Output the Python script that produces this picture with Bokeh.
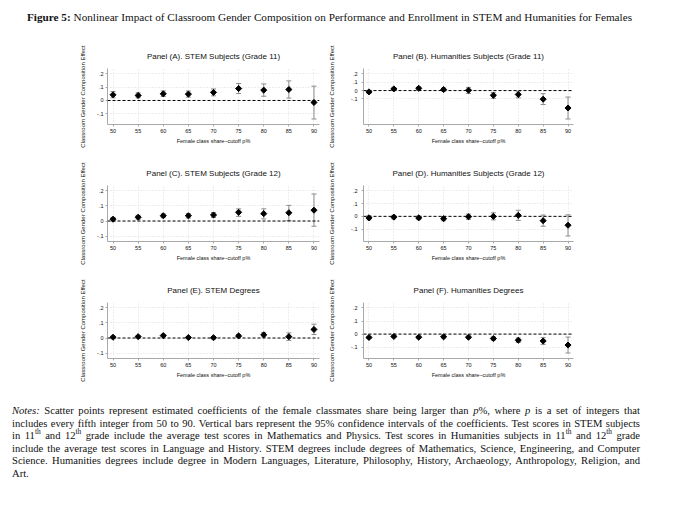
import math
from bokeh.plotting import figure
from bokeh.models import ColumnDataSource, Whisker, TeeHead, Span, FixedTicker, Div, Range1d
from bokeh.layouts import column, row
from bokeh.embed import file_html
from bokeh.resources import INLINE

# ---------------- data ----------------
cutoffs = [50, 55, 60, 65, 70, 75, 80, 85, 90]
y_ticks = [-0.1, 0.0, 0.1, 0.2]
y_tick_labels = ["-.1", "0", ".1", ".2"]

panel_titles = [
    "Panel (A). STEM Subjects (Grade 11)",
    "Panel (B). Humanities Subjects (Grade 11)",
    "Panel (C). STEM Subjects (Grade 12)",
    "Panel (D). Humanities Subjects (Grade 12)",
    "Panel (E). STEM Degrees",
    "Panel (F). Humanities Degrees",
]

a_coef = [0.043, 0.038, 0.050, 0.048, 0.061, 0.090, 0.078, 0.083, -0.015]
a_lo = [0.020, 0.020, 0.030, 0.025, 0.035, 0.052, 0.032, 0.018, -0.140]
a_hi = [0.068, 0.058, 0.072, 0.072, 0.087, 0.128, 0.125, 0.148, 0.108]

b_coef = [-0.016, 0.020, 0.027, 0.012, 0.004, -0.057, -0.047, -0.104, -0.210]
b_lo = [-0.032, 0.004, 0.012, -0.006, -0.035, -0.093, -0.088, -0.168, -0.343]
b_hi = [0.002, 0.036, 0.043, 0.030, 0.039, -0.022, -0.008, -0.037, -0.078]

c_coef = [0.012, 0.025, 0.035, 0.035, 0.040, 0.058, 0.049, 0.055, 0.072]
c_lo = [0.000, 0.012, 0.022, 0.020, 0.024, 0.031, 0.014, 0.003, -0.035]
c_hi = [0.024, 0.038, 0.048, 0.050, 0.056, 0.081, 0.081, 0.104, 0.180]

d_coef = [-0.012, -0.006, -0.012, -0.018, -0.003, 0.000, 0.008, -0.034, -0.070]
d_lo = [-0.028, -0.020, -0.026, -0.035, -0.024, -0.028, -0.032, -0.078, -0.155]
d_hi = [0.004, 0.008, 0.002, -0.001, 0.018, 0.028, 0.048, 0.010, 0.012]

e_coef = [0.005, 0.009, 0.016, 0.003, 0.002, 0.014, 0.021, 0.009, 0.057]
e_lo = [-0.002, 0.002, 0.008, -0.004, -0.006, 0.005, 0.007, -0.016, 0.023]
e_hi = [0.012, 0.016, 0.024, 0.010, 0.010, 0.023, 0.036, 0.034, 0.092]

f_coef = [-0.026, -0.018, -0.024, -0.021, -0.024, -0.034, -0.047, -0.053, -0.084]
f_lo = [-0.034, -0.025, -0.032, -0.029, -0.033, -0.046, -0.064, -0.079, -0.145]
f_hi = [-0.018, -0.011, -0.016, -0.013, -0.015, -0.022, -0.030, -0.027, -0.023]

x_axis_title = "Female class share\u2013cutoff p%"
y_axis_title = "Classroom Gender Composition Effect"

caption_bold = "Figure 5:"
caption_text = ("Nonlinear Impact of Classroom Gender Composition on Performance and "
                "Enrollment in STEM and Humanities for Females")

notes_lines = [
    "<i>Notes:</i> Scatter points represent estimated coefficients of the female classmates share being larger than <i>p</i>%, where <i>p</i> is a set of integers that",
    "includes every fifth integer from 50 to 90. Vertical bars represent the 95% confidence intervals of the coefficients. Test scores in STEM subjects",
    "in 11<sup>th</sup> and 12<sup>th</sup> grade include the average test scores in Mathematics and Physics. Test scores in Humanities subjects in 11<sup>th</sup> and 12<sup>th</sup> grade",
    "include the average test scores in Language and History. STEM degrees include degrees of Mathematics, Science, Engineering, and Computer",
    "Science. Humanities degrees include degree in Modern Languages, Literature, Philosophy, History, Archaeology, Anthropology, Religion, and",
    "Art.",
]

SANS = "Liberation Sans"
SERIF = "Liberation Serif"
GRID = "#d4d4d4"
AXIS = "#a8a8a8"
BAR = "#8c8c8c"


def make_panel(title, coef, lo, hi, side):
    lo_lim = min(min(lo), y_ticks[0])
    hi_lim = max(max(hi), y_ticks[-1])
    span = hi_lim - lo_lim
    pad = 0.122 * span
    if side == "left":
        width, mbl, mbr, lab_standoff, tick_standoff = 325, 107, 6, 8, 2
    else:
        width, mbl, mbr, lab_standoff, tick_standoff = 355, 38, 107, 13, 4
    p = figure(width=width, height=117, output_backend="svg", toolbar_location=None,
               x_range=Range1d(48.9, 91.1), y_range=Range1d(lo_lim - pad, hi_lim + pad),
               min_border_left=mbl, min_border_right=mbr, min_border_top=30, min_border_bottom=31,
               background_fill_color="white", border_fill_color="white")
    p.outline_line_color = None

    p.title.text = title
    p.title.align = "center"
    p.title.text_font = SANS
    p.title.text_font_style = "normal"
    p.title.text_font_size = "8px"
    p.title.text_color = "#111111"
    p.title.standoff = 15

    p.xaxis.ticker = FixedTicker(ticks=cutoffs)
    p.yaxis.ticker = FixedTicker(ticks=y_ticks)
    p.yaxis.major_label_overrides = dict(zip(y_ticks, y_tick_labels))
    p.yaxis.major_label_orientation = "horizontal"
    for ax in (p.xaxis, p.yaxis):
        ax.axis_line_color = AXIS
        ax.axis_line_width = 1
        ax.major_tick_line_color = AXIS
        ax.major_tick_out = 2
        ax.major_tick_in = 0
        ax.minor_tick_line_color = None
        ax.major_label_text_font = SANS
        ax.major_label_text_font_size = "5.5px"
        ax.major_label_text_color = "#111111"
        ax.axis_label_text_font = SANS
        ax.axis_label_text_font_style = "normal"
        ax.axis_label_text_color = "#111111"
    p.xaxis.major_label_standoff = 2
    p.yaxis.major_label_standoff = tick_standoff
    p.xaxis.axis_label = x_axis_title
    p.xaxis.axis_label_text_font_size = "5.5px"
    p.xaxis.axis_label_standoff = 2
    p.yaxis.axis_label = y_axis_title
    p.yaxis.axis_label_text_font_size = "6px"
    p.yaxis.axis_label_standoff = lab_standoff

    p.xgrid.ticker = FixedTicker(ticks=cutoffs)
    p.ygrid.ticker = FixedTicker(ticks=y_ticks)
    for g in (p.xgrid, p.ygrid):
        g.grid_line_color = GRID
        g.grid_line_dash = "1 2"
        g.grid_line_width = 0.8

    p.add_layout(Span(location=0, dimension="width", line_color="black",
                      line_dash="3 2", line_width=1))

    src = ColumnDataSource(dict(x=cutoffs, coef=coef, lo=lo, hi=hi))
    w = Whisker(base="x", lower="lo", upper="hi", source=src, dimension="height",
                line_color=BAR, line_width=1,
                lower_head=TeeHead(size=5, line_color=BAR, line_width=1),
                upper_head=TeeHead(size=5, line_color=BAR, line_width=1))
    w.level = "underlay"
    p.add_layout(w)
    p.scatter("x", "coef", source=src, marker="square", angle=math.pi / 4, size=4.3,
              fill_color="black", line_color="black")
    return p


pa = make_panel(panel_titles[0], a_coef, a_lo, a_hi, "left")
pb = make_panel(panel_titles[1], b_coef, b_lo, b_hi, "right")
pc = make_panel(panel_titles[2], c_coef, c_lo, c_hi, "left")
pd = make_panel(panel_titles[3], d_coef, d_lo, d_hi, "right")
pe = make_panel(panel_titles[4], e_coef, e_lo, e_hi, "left")
pf = make_panel(panel_titles[5], f_coef, f_lo, f_hi, "right")

caption_html = (
    f"<div style=\"font-family:'{SERIF}'; font-size:11.2px; line-height:18px; color:#111;"
    f" margin-left:27px; padding-top:8px; width:605px; white-space:nowrap;"
    f" text-align:justify; text-align-last:justify;\">"
    f"<b>{caption_bold}</b> {caption_text}</div>"
)
caption = Div(text=caption_html, width=680, height=38, margin=0)

line_divs = []
for i, ln in enumerate(notes_lines):
    last = i == len(notes_lines) - 1
    align = "left" if last else "justify"
    line_divs.append(
        f"<div style=\"white-space:nowrap; height:12.6px; overflow:visible; "
        f"text-align:{align}; text-align-last:{align};\">{ln}</div>")
notes_html = (
    f"<div style=\"font-family:'{SERIF}'; font-size:10.6px; line-height:12.6px; color:#111;"
    f" margin-left:12px; padding-top:16px; width:628px;\">"
    "<style>sup{font-size:70%; line-height:0; vertical-align:super;}</style>"
    + "".join(line_divs) + "</div>"
)
notes = Div(text=notes_html, width=680, height=118, margin=0)

layout = column(caption,
                row(pa, pb, spacing=0),
                row(pc, pd, spacing=0),
                row(pe, pf, spacing=0),
                notes, spacing=0)

open("out.html", "w").write(file_html(layout, INLINE))
